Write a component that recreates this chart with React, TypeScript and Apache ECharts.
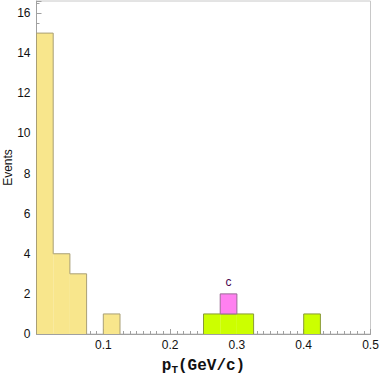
import React, { useEffect, useRef } from "react";
import * as echarts from "echarts";

// Histogram bins: [lower edge, upper edge]
const yellowLow = [0, 0.025, 0.05, 0.1];
const yellowHigh = [0.025, 0.05, 0.075, 0.125];
const yellowCounts = [15, 4, 3, 1];

const greenLow = [0.25, 0.275, 0.3, 0.4];
const greenHigh = [0.275, 0.3, 0.325, 0.425];
const greenCounts = [1, 1, 1, 1];

const pinkLow = [0.275];
const pinkHigh = [0.3];
const pinkBase = [1];
const pinkCounts = [1];
const pinkLabel = ["c"];

const xTicks = [0.1, 0.2, 0.3, 0.4, 0.5];
const yTicks = [0, 2, 4, 6, 8, 10, 12, 14, 16];

function makeData(low: number[], high: number[], counts: number[], base?: number[]) {
  return low.map((l, i) => [l, high[i], base ? base[i] : 0, (base ? base[i] : 0) + counts[i]]);
}

const eq = (a: number, b: number) => Math.abs(a - b) < 1e-9;

function histSeries(name: string, data: number[][], fill: string, stroke: string, label?: string[]) {
  return {
    type: "custom",
    name,
    data,
    encode: { x: [0, 1], y: [2, 3] },
    renderItem: (params: any, api: any) => {
      const i = params.dataIndex;
      const [x0, x1, y0, y1] = data[i];
      const prev = data.find((d) => eq(d[1], x0) && eq(d[2], y0));
      const next = data.find((d) => eq(d[0], x1) && eq(d[2], y0));
      const leftStop = prev ? Math.min(prev[3], y1) : y0;
      const rightStop = next ? Math.min(next[3], y1) : y0;
      const p0 = api.coord([x0, y0]);
      const p1 = api.coord([x1, y1]);
      const pl = api.coord([x0, leftStop]);
      const pr = api.coord([x1, rightStop]);
      const children: any[] = [
        {
          type: "rect",
          shape: { x: p0[0], y: p1[1], width: p1[0] - p0[0], height: p0[1] - p1[1] },
          style: { fill, stroke: "none" },
        },
        {
          type: "polyline",
          shape: {
            points: label
              ? [
                  [p0[0], p0[1]],
                  [p0[0], p1[1]],
                  [p1[0], p1[1]],
                  [p1[0], p0[1]],
                  [p0[0], p0[1]],
                ]
              : [
                  [p0[0], pl[1]],
                  [p0[0], p1[1]],
                  [p1[0], p1[1]],
                  [p1[0], pr[1]],
                ],
          },
          style: { stroke, lineWidth: 1, fill: "none" },
        },
      ];
      if (label) {
        children.push({
          type: "text",
          x: (p0[0] + p1[0]) / 2,
          y: p1[1] - 6,
          style: {
            text: label[i],
            fill: "#4a0a50",
            font: "12px 'Liberation Sans', Arial, sans-serif",
            align: "center",
            verticalAlign: "bottom",
          },
        });
      }
      return { type: "group", children };
    },
  };
}

export default function App() {
  const ref = useRef<HTMLDivElement>(null);
  useEffect(() => {
    if (!ref.current) return;
    const chart = echarts.init(ref.current, undefined, { renderer: "svg" });
    const axisColor = "#a0a0a0";
    const labelFont = { color: "#111", fontSize: 12, fontFamily: "'Liberation Sans', Arial, sans-serif" };
    chart.setOption({
      animation: false,
      backgroundColor: "#fff",
      grid: {
        left: 36.5,
        right: 10.5,
        top: 1,
        bottom: 40,
        show: true,
        borderColor: "#c8c8c8",
        borderWidth: 1,
        containLabel: false,
        outerBoundsMode: "none",
      },
      xAxis: {
        type: "value",
        min: 0,
        max: 0.5,
        interval: 0.1,
        name: "{p|p}{s|T}{p|(GeV/c)}",
        nameLocation: "middle",
        nameGap: 22,
        nameMoveOverlap: false,
        nameTextStyle: {
          rich: {
            p: { fontFamily: "'Liberation Mono', 'Courier New', monospace", fontWeight: "bold", fontSize: 16, color: "#111" },
            s: {
              fontFamily: "'Liberation Mono', 'Courier New', monospace",
              fontWeight: "bold",
              fontSize: 11,
              color: "#111",
              verticalAlign: "bottom",
              padding: [8, 0, 0, 0],
            },
          },
        },
        axisLine: { show: true, lineStyle: { color: axisColor, width: 1 } },
        axisTick: { show: true, inside: true, length: 5, lineStyle: { color: axisColor } },
        minorTick: { show: true, splitNumber: 10, length: 3, lineStyle: { color: axisColor } },
        splitLine: { show: false },
        axisLabel: {
          ...labelFont,
          margin: 5,
          formatter: (v: number) => {
            const t = xTicks.find((x) => Math.abs(x - v) < 1e-9);
            return t !== undefined ? String(t) : "";
          },
        },
      },
      yAxis: {
        type: "value",
        min: 0,
        max: 16.6,
        interval: 2,
        name: "Events",
        nameLocation: "middle",
        nameGap: 23,
        nameMoveOverlap: false,
        nameTextStyle: { ...labelFont, fontSize: 12 },
        axisLine: { show: true, lineStyle: { color: axisColor, width: 1 } },
        axisTick: { show: true, inside: true, length: 5, lineStyle: { color: axisColor } },
        minorTick: { show: true, splitNumber: 4, length: 3, lineStyle: { color: axisColor } },
        splitLine: { show: false },
        axisLabel: {
          ...labelFont,
          margin: 6,
          showMaxLabel: false,
          formatter: (v: number) => {
            const t = yTicks.find((y) => Math.abs(y - v) < 1e-9);
            return t !== undefined ? String(t) : "";
          },
        },
      },
      series: [
        histSeries("yellow", makeData(yellowLow, yellowHigh, yellowCounts), "#f8e68c", "#a99f76"),
        histSeries("green", makeData(greenLow, greenHigh, greenCounts), "#ccff00", "#8a9a3a"),
        histSeries("pink", makeData(pinkLow, pinkHigh, pinkCounts, pinkBase), "#ff80f0", "#9a6a96", pinkLabel),
      ],
    });
    return () => chart.dispose();
  }, []);
  return <div ref={ref} style={{ width: 381, height: 374, position: "absolute", left: 0, top: 0 }} />;
}
